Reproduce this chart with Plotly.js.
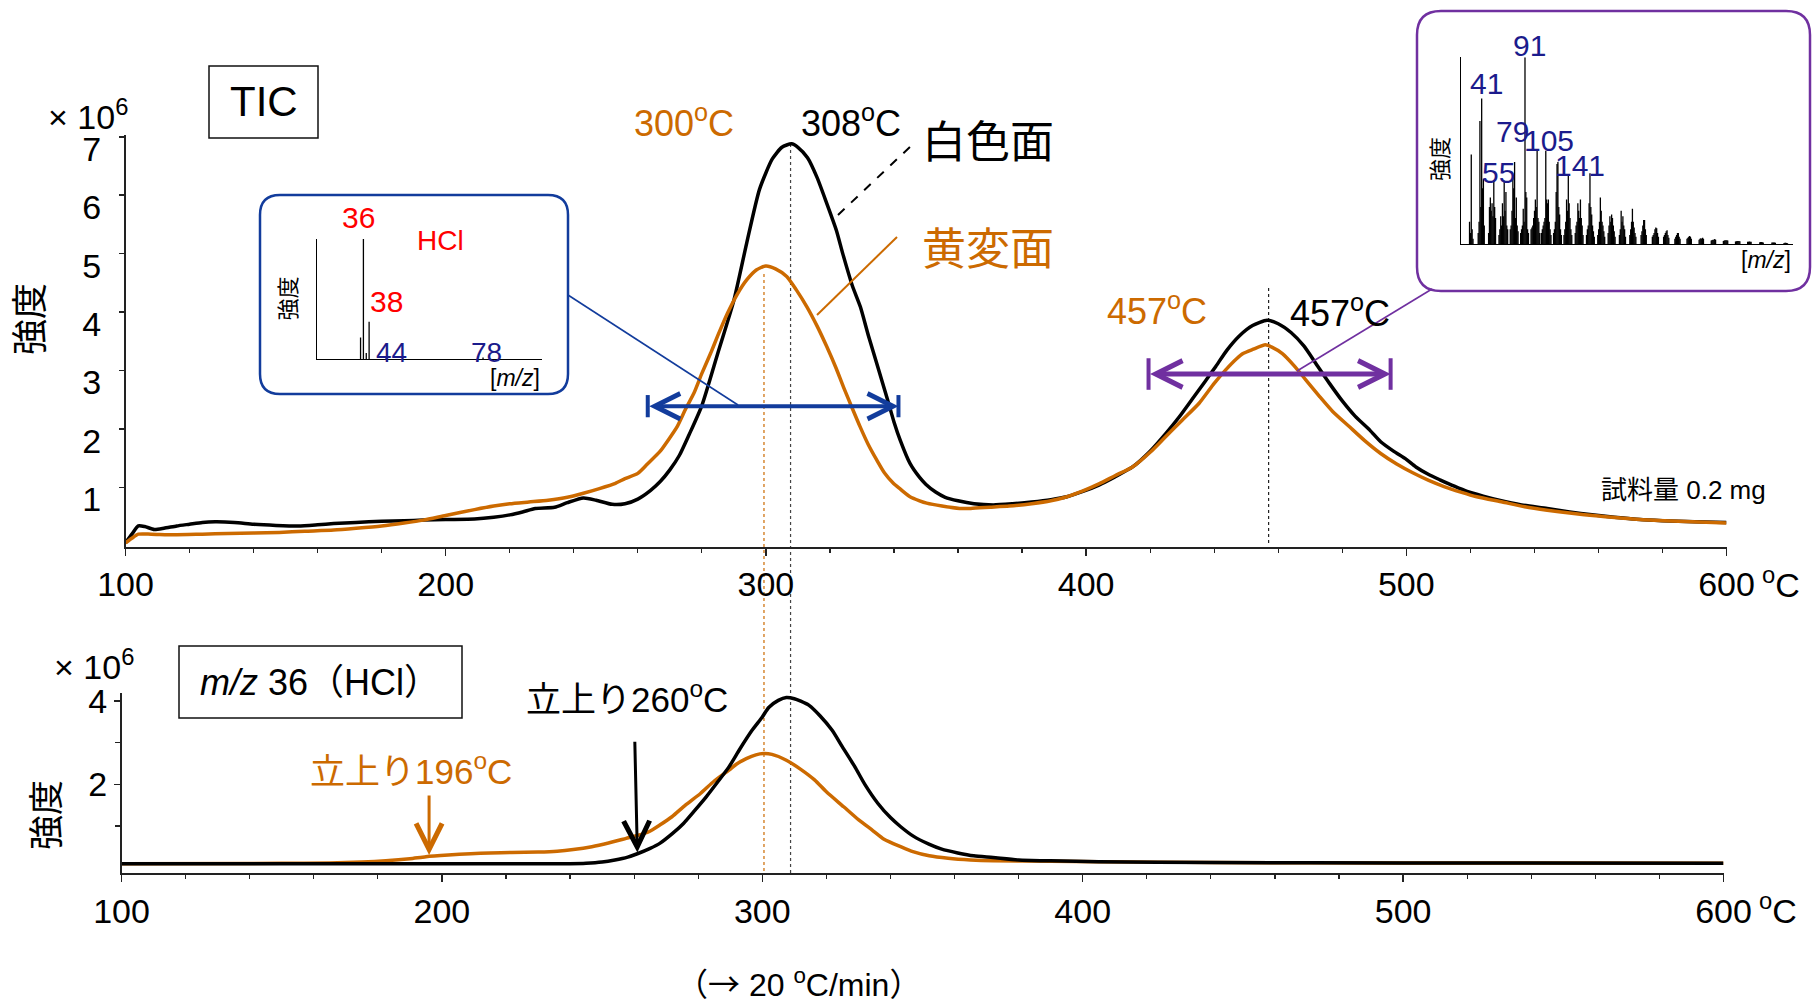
<!DOCTYPE html>
<html><head><meta charset="utf-8">
<script src="https://cdn.plot.ly/plotly-3.0.1.min.js"></script>
<style>html,body{margin:0;padding:0;background:#fff}#chart{width:1813px;height:1005px}</style>
</head><body><div id="chart"></div>
<script>
// ---------- DATA ----------
// TIC, white surface (白色面)
const ticWhiteT = [100,102,104,106,109,112,116,120,124,128,134,140,147,154,160,165,172,180,187,193,200,209,215,220,224,228,234,238,243,247,252,256,260,264,267,270,273,276,280,285,290,294,298,302,305,308,310,313,316,319,322,324,327,329.5,332,335,338,340,342,345,348,350,353,356,360,365,371,377,383,389,394,399,404,409,414.5,420,425,429,433,437,440.5,444,448,452,456.5,460,464,468,472,476,480,484,488.6,492,496,500,503,507,510.5,515,519,524,529,536,544,551,558,565,573,580,590,600];
const ticWhiteI = [0.05,0.2,0.34,0.33,0.28,0.30,0.34,0.37,0.40,0.41,0.40,0.37,0.35,0.34,0.36,0.38,0.40,0.42,0.43,0.44,0.45,0.46,0.49,0.53,0.58,0.64,0.66,0.74,0.82,0.78,0.71,0.72,0.80,0.95,1.1,1.3,1.55,1.9,2.4,3.3,4.2,5.18,6.1,6.62,6.82,6.88,6.82,6.64,6.3,5.86,5.4,5.0,4.45,4.09,3.6,3.05,2.5,2.12,1.8,1.41,1.17,1.05,0.92,0.83,0.77,0.72,0.70,0.72,0.75,0.79,0.84,0.93,1.04,1.18,1.35,1.62,1.93,2.2,2.5,2.8,3.07,3.35,3.6,3.77,3.86,3.8,3.65,3.42,3.1,2.78,2.48,2.22,1.98,1.78,1.62,1.48,1.35,1.22,1.13,1.02,0.93,0.85,0.78,0.70,0.64,0.58,0.53,0.49,0.45,0.43,0.41,0.40];
// TIC, yellowed surface (黄変面)
const ticYellowT = [100,102,104,108,115,124,132,140,148,156,165,172,180,187,193,200,209,215,220,226,232,238,243,248,253,256,260,263,267,270,272.3,275,277.5,280,282.7,285,288,291,294,297,300,303,306.5,309.5,312.8,316,319,322,324.2,327,329.4,332,334.6,337,339.8,342,345,348,350.2,355,360.5,364,370,376,383,389,394,399,404,409,414.5,420,424.9,430,435.3,440,443.6,447,449,452,456,458,461.3,465,468.6,473,477,482,487,492,497,502,507,512,517,522,530,537,544,551,560,573,585,600];
const ticYellowI = [0.05,0.13,0.20,0.20,0.19,0.20,0.21,0.22,0.23,0.25,0.27,0.30,0.34,0.39,0.44,0.52,0.62,0.68,0.72,0.75,0.78,0.83,0.90,0.98,1.07,1.15,1.24,1.40,1.62,1.85,2.04,2.35,2.61,2.95,3.29,3.6,3.98,4.3,4.55,4.72,4.79,4.74,4.61,4.38,4.09,3.76,3.41,3.03,2.72,2.35,2.04,1.73,1.47,1.25,1.07,0.97,0.84,0.77,0.73,0.68,0.64,0.64,0.66,0.68,0.72,0.77,0.84,0.94,1.06,1.2,1.35,1.6,1.87,2.15,2.44,2.78,3.01,3.2,3.29,3.36,3.44,3.4,3.29,3.08,2.84,2.55,2.3,2.05,1.8,1.58,1.4,1.25,1.12,1.01,0.92,0.84,0.75,0.67,0.61,0.56,0.51,0.45,0.42,0.39];
// m/z 36 (HCl), white surface
const hclWhiteT = [100,150,200,230,240,245,250,254,258,261,265,268,272,275.4,279,282.5,286,289.6,293,296.8,300,302,305,307.5,310,312,314.6,318,321.8,325,328.9,332,336.1,340,343.2,347,352,356,361,366,372,380,390,405,440,500,600];
const hclWhiteI = [0.09,0.09,0.09,0.09,0.09,0.10,0.13,0.18,0.25,0.33,0.46,0.58,0.82,1.06,1.38,1.70,2.05,2.42,2.85,3.30,3.62,3.85,4.02,4.09,4.06,4.0,3.9,3.65,3.30,2.90,2.42,2.0,1.54,1.20,0.98,0.76,0.56,0.44,0.35,0.28,0.24,0.18,0.16,0.14,0.12,0.11,0.10];
// m/z 36 (HCl), yellowed surface
const hclYellowT = [100,150,165,175,182.5,190,195,202,209,215,221.8,230,236,241,246.8,252,257.5,261,264.6,268,271.8,276,280.7,285,289.6,292,295,298,300.4,303,307.5,312,316.4,320,325.4,330,334.3,338,343.2,347,352.1,358,365,372,390,405,440,500,600];
const hclYellowI = [0.09,0.10,0.11,0.13,0.16,0.21,0.26,0.30,0.33,0.35,0.36,0.37,0.39,0.43,0.50,0.59,0.70,0.77,0.86,1.02,1.22,1.50,1.78,2.08,2.34,2.49,2.62,2.71,2.74,2.72,2.58,2.36,2.10,1.82,1.46,1.15,0.90,0.68,0.50,0.38,0.28,0.22,0.18,0.16,0.15,0.14,0.12,0.11,0.10];
// inset mass spectrum at 300 °C (HCl)
const hclMsMz  = [35,36,37,38,44,78];
const hclMsInt = [18,100,5,31,1.5,1.2];
// inset mass spectrum at 457 °C
const pvcMsMz = [27,28,29,30,31, 37,38,39,40,41,42,43,44, 49,50,51,52,53,54,55,56,57, 61,62,63,64,65,66,67,68,69,70,71, 74,75,76,77,78,79,80,81,82,83, 86,87,88,89,90,91,92,93,94,95, 98,99,100,101,102,103,104,105,106,107,108, 110,111,112,113,114,115,116,117,118,119,120,121, 124,125,126,127,128,129,130,131,132,133, 136,137,138,139,140,141,142,143,144,145, 149,150,151,152,153,154,155,156,157,158, 162,163,164,165,166,167,168,169,170,171, 175,176,177,178,179,180,181,182,183, 187,188,189,190,191,192,193,194,195, 200,201,202,203,204,205,206,207, 212,213,214,215,216,217,218,219, 225,226,227,228,229,230,231, 238,239,240,241,242,243,244,245, 251,252,253,254,255,256,257, 264,265,266,267,268,269,270, 278,279,280,281,282,283, 292,293,294,295,296,297, 306,307,308,309,310,311, 320,321,322,323,324,325, 334,335,336,337,338,339, 348,349,350,351,352, 362,363,364,365,366, 376,377,378,379,380, 390,391,392,393,394];
const pvcMsInt = [12,6,48,8,3, 6,12,66,20,78,30,35,10, 6,20,25,18,22,15,34,20,14, 5,8,15,10,22,15,34,18,28,10,8, 8,10,18,37,30,44,14,25,10,7, 6,8,10,19,12,100,28,25,8,6, 8,9,10,14,18,24,20,50,14,12,6, 6,8,10,12,14,50,24,22,24,12,8,5, 6,8,12,28,43,44,20,16,8,5, 5,8,12,24,18,37,22,14,8,5, 6,10,12,22,18,14,24,14,10,5, 5,8,10,22,38,20,16,10,7,4, 5,8,12,25,18,12,10,7,4, 6,10,15,12,16,14,10,7,4, 5,8,18,12,15,10,8,4, 5,8,12,19,12,9,6,4, 5,7,10,13,13,8,5, 4,5,6,8,9,8.6,6,4, 4,5,6,7,7.5,5,3.5, 3,4,5,6,6,4,3, 3,3.5,4,4.5,4,3, 2.5,3,3.2,3,3.5,3, 2,2.3,2.5,2.5,2.8,2.5, 1.8,2,2.2,2.1,2.2,2, 1.5,1.6,1.8,1.7,1.8,1.6, 1.3,1.4,1.5,1.4,1.3, 1.1,1.2,1.2,1.1,1.0, 0.9,1.0,1.0,0.9,0.8, 0.7,0.8,0.8,0.7,0.6];
// ticks
const xTickVals = [100,200,300,400,500,600];
const xTickText = ['100','200','300','400','500','600'];
const ticYTicks = [1,2,3,4,5,6,7];
const hclYTicks = [2,4];
const hclYMinor = [1,3];
// marked temperatures
const peakWhite1 = 308, peakYellow1 = 300, peak2 = 457;
const onsetYellow = 196, onsetWhite = 261;
const rangeBlue = [263.1, 341.4], rangeBlueY = 2.39;
const rangePurple = [419.5, 495.1], rangePurpleY = 2.94;

// ---------- HELPERS ----------
const W = 1813, H = 1005;
const px = x => x / W, py = y => 1 - y / H;
const FONT = "'Liberation Sans', Arial, 'Noto Sans CJK JP', sans-serif";
const CJK = "'Noto Sans CJK JP'";
const ORANGE = '#CC6A00', BLUE = '#123C9C', PURPLE = '#7030A0', NAVY = '#1B1B8C', RED = '#FF0000';

function sticks(mz, inten) {
  const x = [], y = [];
  mz.forEach((m, i) => { x.push(m, m, null); y.push(0, inten[i], null); });
  return {x, y};
}
function rrect(x0, y0, x1, y1, r) {
  const P = (x, y) => px(x) + ',' + py(y);
  return 'M' + P(x0 + r, y0) + ' L' + P(x1 - r, y0) + ' Q' + P(x1, y0) + ' ' + P(x1, y0 + r) +
    ' L' + P(x1, y1 - r) + ' Q' + P(x1, y1) + ' ' + P(x1 - r, y1) +
    ' L' + P(x0 + r, y1) + ' Q' + P(x0, y1) + ' ' + P(x0, y1 - r) +
    ' L' + P(x0, y0 + r) + ' Q' + P(x0, y0) + ' ' + P(x0 + r, y0) + ' Z';
}
function txt(t, x, y, size, color, extra) {
  return Object.assign({text: t, xref: 'paper', yref: 'paper', x: px(x), y: py(y),
    xanchor: 'center', yanchor: 'middle', showarrow: false,
    font: {family: FONT, size: size, color: color}}, extra || {});
}
function pline(x0, y0, x1, y1, color, width, dash) {
  return {type: 'line', xref: 'paper', yref: 'paper', x0: px(x0), y0: py(y0), x1: px(x1), y1: py(y1),
    line: {color: color, width: width, dash: dash || 'solid'}};
}

// ---------- TRACES ----------
const hclSt = sticks(hclMsMz, hclMsInt);
const pvcSt = sticks(pvcMsMz, pvcMsInt);
const LW = 3.5;
const traces = [
  {x: ticWhiteT, y: ticWhiteI, xaxis: 'x', yaxis: 'y', mode: 'lines', line: {color: '#000', width: LW, shape: 'spline', smoothing: 0.6}},
  {x: ticYellowT, y: ticYellowI, xaxis: 'x', yaxis: 'y', mode: 'lines', line: {color: ORANGE, width: LW, shape: 'spline', smoothing: 0.6}},
  {x: hclYellowT, y: hclYellowI, xaxis: 'x2', yaxis: 'y2', mode: 'lines', line: {color: ORANGE, width: LW, shape: 'spline', smoothing: 0.6}},
  {x: hclWhiteT, y: hclWhiteI, xaxis: 'x2', yaxis: 'y2', mode: 'lines', line: {color: '#000', width: LW, shape: 'spline', smoothing: 0.6}},
  {x: hclSt.x, y: hclSt.y, xaxis: 'x3', yaxis: 'y3', mode: 'lines', line: {color: '#000', width: 1.3}},
  {x: pvcSt.x, y: pvcSt.y, xaxis: 'x4', yaxis: 'y4', mode: 'lines', line: {color: '#000', width: 1.3}}
];

// ---------- AXES ----------
const tf = {family: FONT, size: 34, color: '#000'};
const xBase = {range: [100, 600], showline: true, linecolor: '#222', linewidth: 1.5, ticks: 'outside', ticklen: 7,
  tickwidth: 1.5, tickcolor: '#222', tickmode: 'array', tickvals: xTickVals, ticktext: xTickText, tickfont: tf,
  minor: {ticks: 'outside', ticklen: 4, tickwidth: 1.2, tickcolor: '#222', tickmode: 'linear', tick0: 100, dtick: 20},
  showgrid: false, zeroline: false, ticklabelstandoff: 0, fixedrange: true};
const inset = {showline: true, linecolor: '#000', linewidth: 1, ticks: '', showticklabels: false, showgrid: false, zeroline: false, fixedrange: true};

const layout = {
  width: W, height: H, margin: {l: 0, r: 0, t: 0, b: 0}, showlegend: false,
  paper_bgcolor: '#fff', plot_bgcolor: 'rgba(0,0,0,0)',
  xaxis: Object.assign({}, xBase, {domain: [px(125.5), px(1726.5)], anchor: 'y'}),
  yaxis: {domain: [py(547), py(135)], range: [-0.02, 7.03], anchor: 'x', showline: true, linecolor: '#222', linewidth: 1.5,
    ticks: 'outside', ticklen: 5, tickwidth: 1.5, tickcolor: '#222', tickmode: 'array', tickvals: ticYTicks, tickfont: tf,
    showgrid: false, zeroline: false, ticklabelstandoff: 11, ticklabelshift: 12, fixedrange: true},
  xaxis2: Object.assign({}, xBase, {domain: [px(121.5), px(1723.5)], anchor: 'y2'}),
  yaxis2: {domain: [py(873.3), py(693.3)], range: [-0.14, 4.19], anchor: 'x2', showline: true, linecolor: '#222', linewidth: 1.5,
    ticks: 'outside', ticklen: 6, tickwidth: 1.5, tickcolor: '#222', tickmode: 'array', tickvals: hclYTicks, tickfont: tf,
    minor: {ticks: 'outside', ticklen: 5, tickwidth: 1.2, tickcolor: '#222', tickmode: 'array', tickvals: hclYMinor},
    showgrid: false, zeroline: false, ticklabelstandoff: 0, fixedrange: true},
  xaxis3: Object.assign({}, inset, {domain: [px(316.7), px(541.7)], range: [19.6, 98.6], anchor: 'y3'}),
  yaxis3: Object.assign({}, inset, {domain: [py(359), py(239)], range: [0, 100], anchor: 'x3'}),
  xaxis4: Object.assign({}, inset, {domain: [px(1460.7), px(1792.7)], range: [16.8, 400], anchor: 'y4'}),
  yaxis4: Object.assign({}, inset, {domain: [py(244.3), py(57.3)], range: [0, 100], anchor: 'x4'}),
  shapes: [], annotations: []
};

// ---------- SHAPES ----------
const S = layout.shapes;
S.push({type: 'rect', xref: 'paper', yref: 'paper', x0: px(209), y0: py(66), x1: px(318), y1: py(138), line: {color: '#111', width: 1.5}});
S.push({type: 'rect', xref: 'paper', yref: 'paper', x0: px(179), y0: py(646), x1: px(462), y1: py(718), line: {color: '#111', width: 1.5}});
S.push({type: 'path', xref: 'paper', yref: 'paper', path: rrect(260, 195, 568, 394, 20), line: {color: BLUE, width: 2.5}});
S.push({type: 'path', xref: 'paper', yref: 'paper', path: rrect(1417, 11, 1810, 291, 24), line: {color: PURPLE, width: 2.5}});
S.push({type: 'line', xref: 'x', yref: 'paper', x0: 307.7, x1: 307.7, y0: py(873), y1: py(143), layer: 'below', line: {color: '#444', width: 1.2, dash: 'dot'}});
S.push({type: 'line', xref: 'x', yref: 'paper', x0: 299.4, x1: 299.4, y0: py(871), y1: py(272), layer: 'below', line: {color: ORANGE, width: 1.2, dash: 'dot'}});
S.push({type: 'line', xref: 'x', yref: 'paper', x0: peak2, x1: peak2, y0: py(543), y1: py(285), layer: 'below', line: {color: '#222', width: 1.2, dash: 'dot'}});
S.push(pline(838, 215, 912, 145, '#000', 2, 'dash'));
S.push(pline(817, 315, 897, 237, ORANGE, 2));
S.push(pline(568, 295, 738, 405, BLUE, 1.6));
S.push(pline(1297, 371, 1432, 289, PURPLE, 1.6));
[[rangeBlue, rangeBlueY, BLUE, 0.19], [rangePurple, rangePurpleY, PURPLE, 0.27]].forEach(([r, yv, c, h]) => {
  r.forEach(xv => S.push({type: 'line', xref: 'x', yref: 'y', x0: xv, x1: xv, y0: yv - h, y1: yv + h, line: {color: c, width: 4}}));
});

// ---------- ANNOTATIONS ----------
const A = layout.annotations;
A.push(txt('TIC', 263.5, 102, 42, '#000'));
A.push(txt('<i>m/z</i> 36（HCl）', 320, 682, 36, '#000'));
A.push(txt('× 10<sup>6</sup>', 46, 114, 34, '#000', {xanchor: 'left'}));
A.push(txt('× 10<sup>6</sup>', 52, 664, 34, '#000', {xanchor: 'left'}));
A.push(txt('強度', 30, 319, 36, '#000', {textangle: -90}));
A.push(txt('強度', 46, 815, 35, '#000', {textangle: -90}));
A.push(txt('<sup>o</sup>C', 1760, 582, 34, '#000', {xanchor: 'left'}));
A.push(txt('<sup>o</sup>C', 1757, 908, 34, '#000', {xanchor: 'left'}));
A.push(txt(peakYellow1 + '<sup>o</sup>C', 684, 121, 36, ORANGE));
A.push(txt(peakWhite1 + '<sup>o</sup>C', 851, 121, 36, '#000'));
A.push(txt('白色面', 988, 143, 44, '#000'));
A.push(txt('黄変面', 988, 250, 44, ORANGE));
A.push(txt(peak2 + '<sup>o</sup>C', 1157, 309, 36, ORANGE));
A.push(txt(peak2 + '<sup>o</sup>C', 1340, 311, 36, '#000'));
A.push(txt('試料量 0.2 mg', 1683, 490, 26, '#000'));
A.push(txt('立上り' + onsetYellow + '<sup>o</sup>C', 411, 769, 35, ORANGE));
A.push(txt('立上り260<sup>o</sup>C', 627, 697, 35, '#000'));
A.push(txt('<span style="font-family:' + CJK + '">（→</span> 20 <sup>o</sup>C/min<span style="font-family:' + CJK + '">）</span>', 798, 982, 32, '#000'));
// HCl inset texts
A.push(txt('36', 358, 218, 30, RED));
A.push(txt('HCl', 440, 240, 28, RED));
A.push(txt('38', 386, 302, 30, RED));
A.push(txt('44', 391, 352, 28, NAVY));
A.push(txt('78', 487, 352, 28, NAVY));
A.push(txt('[<i>m/z</i>]', 515, 378, 23, '#000'));
A.push(txt('強度', 287.5, 299, 22, '#000', {textangle: -90}));
// PVC inset texts
A.push(txt('91', 1529, 46, 30, NAVY));
A.push(txt('41', 1486, 84, 30, NAVY));
A.push(txt('79', 1512, 131, 30, NAVY));
A.push(txt('105', 1549, 140, 30, NAVY));
A.push(txt('55', 1498, 172, 30, NAVY));
A.push(txt('141', 1580, 165, 30, NAVY));
A.push(txt('[<i>m/z</i>]', 1766, 260, 23, '#000'));
A.push(txt('強度', 1441, 159, 22, '#000', {textangle: -90}));
// double arrows
A.push({xref: 'x', yref: 'y', axref: 'x', ayref: 'y', x: rangeBlue[1], y: rangeBlueY, ax: rangeBlue[0], ay: rangeBlueY, text: '',
  showarrow: true, arrowside: 'end+start', arrowhead: 5, startarrowhead: 5, arrowsize: 1.25, startarrowsize: 1.25, arrowwidth: 4, arrowcolor: BLUE, standoff: 0, startstandoff: 0});
A.push({xref: 'x', yref: 'y', axref: 'x', ayref: 'y', x: rangePurple[1], y: rangePurpleY, ax: rangePurple[0], ay: rangePurpleY, text: '',
  showarrow: true, arrowside: 'end+start', arrowhead: 5, startarrowhead: 5, arrowsize: 1.05, startarrowsize: 1.05, arrowwidth: 5, arrowcolor: PURPLE, standoff: 0, startstandoff: 0});
// onset arrows
A.push({xref: 'x2', yref: 'y2', axref: 'x2', ayref: 'y2', x: onsetYellow, y: 0.3, ax: onsetYellow, ay: 1.77, text: '',
  showarrow: true, arrowhead: 5, arrowsize: 1.7, arrowwidth: 3, arrowcolor: ORANGE});
A.push({xref: 'x2', yref: 'y2', axref: 'x2', ayref: 'y2', x: onsetWhite, y: 0.36, ax: 260.2, ay: 3.06, text: '',
  showarrow: true, arrowhead: 5, arrowsize: 1.7, arrowwidth: 3, arrowcolor: '#000'});

Plotly.newPlot('chart', traces, layout, {staticPlot: true, displayModeBar: false});
</script></body></html>
